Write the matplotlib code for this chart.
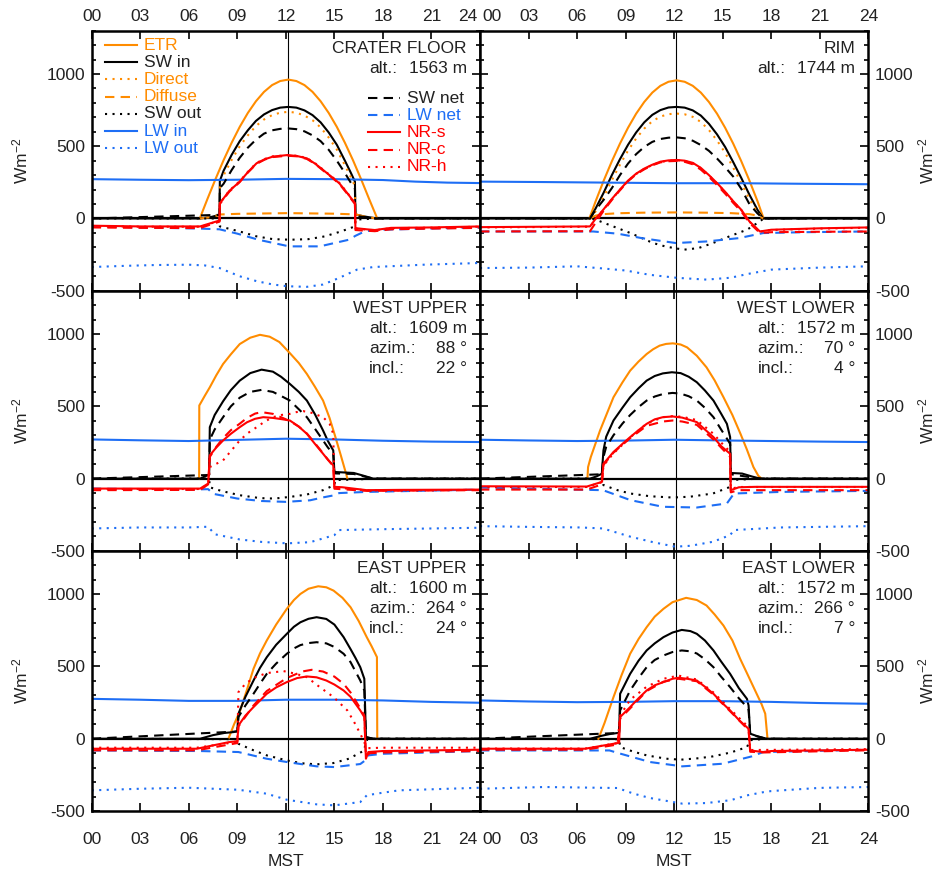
import numpy as np
import matplotlib
matplotlib.use("Agg")
import matplotlib.pyplot as plt
from matplotlib.lines import Line2D
from matplotlib.transforms import ScaledTranslation

plt.rcParams['font.family'] = ['Liberation Sans', 'DejaVu Sans']
plt.rcParams['mathtext.default'] = 'regular'
plt.rcParams['axes.unicode_minus'] = False
FS = 12.5

# ---------------- DATA ----------------
hours = [0, 3, 6, 9, 12, 15, 18, 21, 24]
hour_labels = ['00', '03', '06', '09', '12', '15', '18', '21', '24']
solar_noon = 12.13
panel_names = ['CRATER FLOOR', 'RIM', 'WEST UPPER', 'WEST LOWER', 'EAST UPPER', 'EAST LOWER']
panel_alt = [1563, 1744, 1609, 1572, 1600, 1572]
panel_azim = [None, None, 88, 70, 264, 266]
panel_incl = [None, None, 22, 4, 24, 7]

# ---- Crater floor ----
cf_etr = [(6.68, 0), (7.15, 134), (7.65, 272), (8.15, 403), (8.65, 524), (9.15, 634), (9.65, 730), (10.15, 811),
          (10.65, 876), (11.15, 923), (11.65, 951), (12.15, 961), (12.65, 951), (13.15, 923), (13.65, 876),
          (14.15, 811), (14.65, 730), (15.15, 634), (15.65, 524), (16.15, 403), (16.65, 272), (17.15, 134), (17.65, 0)]
cf_swin = [(0, 0), (6.7, 0), (7.3, 8), (7.9, 25), (7.92, 260), (8.15, 330), (8.65, 440), (9.15, 535), (9.65, 610),
           (10.15, 675), (10.65, 720), (11.15, 750), (11.65, 767), (12.15, 772), (12.65, 767), (13.15, 748),
           (13.65, 715), (14.15, 665), (14.65, 595), (15.15, 510), (15.65, 400), (16.0, 320), (16.27, 255),
           (16.3, 28), (16.8, 15), (17.6, 0), (24, 0)]
cf_direct = [(7.92, 0), (7.93, 225), (8.15, 298), (8.65, 405), (9.15, 500), (9.65, 575), (10.15, 640), (10.65, 685),
             (11.15, 715), (11.65, 732), (12.15, 738), (12.65, 732), (13.15, 712), (13.65, 680), (14.15, 630),
             (14.65, 560), (15.15, 477), (15.65, 368), (16.0, 290), (16.27, 225), (16.3, 0)]
cf_diffuse = [(6.7, 0), (7.3, 8), (7.9, 25), (8.0, 28), (9.0, 32), (12.15, 37), (15.0, 33), (16.3, 28), (16.8, 15), (17.6, 0)]
cf_swout = [(0, 0), (7.9, 0), (7.92, -55), (9.15, -90), (10.2, -124), (11.2, -143), (12.3, -147), (13.4, -143),
            (14.4, -124), (15.4, -90), (16.27, -55), (16.3, -8), (17.6, 0), (24, 0)]
cf_lwin = [(0, 272), (3, 268), (6, 265), (9, 268), (12, 274), (15, 272), (18, 266), (20, 255), (22, 248), (24, 245)]
cf_lwout = [(0, -336), (2, -328), (4, -322), (6, -320), (7, -325), (7.9, -343), (9.15, -400), (10.2, -434),
            (11.2, -457), (12.1, -469), (13.3, -473), (14.3, -457), (15.3, -411), (16.4, -354), (17.4, -336),
            (20.5, -320), (24, -308)]
cf_swnet = [(0, 0), (7.9, 25), (7.92, 210), (8.15, 240), (8.65, 335), (9.15, 420), (9.65, 490), (10.15, 545),
            (10.65, 587), (11.15, 610), (11.65, 620), (12.15, 623), (12.65, 618), (13.15, 603), (13.65, 575),
            (14.15, 535), (14.65, 475), (15.15, 400), (15.65, 315), (16.0, 250), (16.27, 205), (16.3, 18),
            (17.6, 0), (24, 0)]
cf_lwnet = [(0, -55), (6.7, -70), (7.9, -75), (9.0, -105), (10.3, -147), (12.2, -193), (14.1, -193), (15.9, -147),
            (16.3, -120), (16.9, -88), (17.9, -78), (20, -72), (24, -62)]
cf_nrs = [(0, -50), (3, -55), (6.7, -55), (7.9, -14), (7.92, 106), (8.5, 190), (9.15, 255), (9.65, 320),
          (10.19, 382), (10.7, 410), (11.2, 428), (12.1, 439), (12.7, 432), (13.3, 416), (13.8, 380), (14.3, 336),
          (14.8, 290), (15.3, 244), (15.8, 175), (16.27, 106), (16.3, -67), (17.0, -75), (17.5, -80), (18.5, -65),
          (21, -62), (24, -55)]
cf_nrc = [(0, -62), (3, -65), (6.7, -66), (7.9, -22), (7.92, 100), (8.5, 185), (9.15, 252), (9.65, 318),
          (10.19, 378), (10.7, 408), (11.2, 425), (12.1, 434), (12.7, 430), (13.3, 412), (13.8, 378), (14.3, 332),
          (14.8, 288), (15.3, 240), (15.8, 170), (16.27, 100), (16.3, -80), (17.0, -85), (17.5, -88), (18.5, -75),
          (21, -70), (24, -65)]
cf_nrh = [(0, -52), (3, -57), (6.7, -57), (7.9, -16), (7.92, 104), (8.5, 192), (9.15, 258), (9.65, 322),
          (10.19, 385), (10.7, 412), (11.2, 430), (12.1, 437), (12.7, 434), (13.3, 418), (13.8, 383), (14.3, 338),
          (14.8, 293), (15.3, 247), (15.8, 178), (16.27, 104), (16.3, -70), (17.0, -77), (17.5, -82), (18.5, -67),
          (21, -64), (24, -57)]

# ---- Rim ----
rim_etr = [(6.76, 0), (7.15, 120), (7.65, 263), (8.15, 396), (8.65, 518), (9.15, 628), (9.65, 725), (10.15, 806),
           (10.65, 871), (11.15, 918), (11.65, 946), (12.15, 956), (12.65, 946), (13.15, 918), (13.65, 871),
           (14.15, 806), (14.65, 725), (15.15, 628), (15.65, 518), (16.15, 396), (16.65, 263), (17.15, 120), (17.53, 0)]
rim_swin = [(0, 0), (6.8, 0), (7.15, 70), (7.65, 180), (8.15, 300), (8.65, 410), (9.15, 510), (9.65, 595),
            (10.15, 665), (10.65, 717), (11.15, 750), (11.65, 768), (12.15, 772), (12.65, 767), (13.15, 748),
            (13.65, 712), (14.15, 655), (14.65, 582), (15.15, 495), (15.65, 390), (16.15, 280), (16.65, 165),
            (17.15, 60), (17.5, 0), (24, 0)]
rim_direct = [(6.8, 0), (7.15, 50), (7.65, 150), (8.15, 265), (8.65, 372), (9.15, 470), (9.65, 553), (10.15, 622),
              (10.65, 673), (11.15, 705), (11.65, 722), (12.15, 726), (12.65, 721), (13.15, 703), (13.65, 668),
              (14.15, 612), (14.65, 540), (15.15, 455), (15.65, 352), (16.15, 245), (16.65, 135), (17.15, 40), (17.5, 0)]
rim_diffuse = [(6.8, 0), (7.15, 20), (7.65, 30), (8.5, 36), (10, 40), (12.15, 42), (14, 40), (15.5, 37),
               (16.65, 30), (17.15, 20), (17.5, 0)]
rim_swout = [(0, 0), (6.8, 0), (7.2, -10), (8.0, -45), (9.3, -101), (10.7, -170), (11.5, -195), (12.6, -216),
             (13.5, -205), (14.4, -170), (15.5, -120), (16.5, -78), (17.3, -20), (17.53, 0), (24, 0)]
rim_lwin = [(0, 255), (4, 252), (8, 248), (12, 244), (16, 244), (20, 240), (24, 237)]
rim_lwout = [(0, -343), (3, -340), (6, -331), (7.5, -345), (9, -360), (10.5, -390), (12.2, -411), (14, -423),
             (15.5, -410), (16.5, -385), (18, -354), (21, -340), (24, -331)]
rim_swnet = [(0, 0), (6.8, 0), (7.15, 60), (7.65, 130), (8.15, 210), (8.65, 300), (9.15, 380), (9.65, 445),
             (10.15, 495), (10.65, 530), (11.15, 550), (11.65, 559), (12.15, 561), (12.65, 555), (13.15, 538),
             (13.65, 508), (14.15, 468), (14.65, 415), (15.15, 355), (15.65, 290), (16.15, 205), (16.65, 100),
             (17.15, 35), (17.5, 0), (24, 0)]
rim_lwnet = [(0, -90), (7, -90), (8.5, -105), (10, -136), (12.1, -170), (14, -159), (16, -136), (17.5, -101),
             (20, -95), (24, -90)]
rim_nrs = [(0, -60), (6.8, -55), (7.1, -9), (7.65, 65), (8.15, 135), (8.65, 200), (9.15, 262), (9.65, 310),
           (10.15, 345), (10.65, 372), (11.15, 393), (11.65, 402), (12.15, 405), (12.65, 400), (13.15, 385),
           (13.65, 350), (14.15, 300), (14.65, 245), (15.15, 185), (15.65, 120), (16.15, 60), (16.65, -20),
           (17.3, -90), (18, -78), (21, -68), (24, -62)]
rim_nrc = [(0, -90), (6.8, -88), (7.2, -20), (7.65, 55), (8.15, 128), (8.65, 195), (9.15, 258), (9.65, 305),
           (10.15, 340), (10.65, 368), (11.15, 388), (11.65, 396), (12.15, 398), (12.65, 392), (13.15, 375),
           (13.65, 338), (14.15, 288), (14.65, 232), (15.15, 172), (15.65, 108), (16.15, 48), (16.65, -30),
           (17.3, -100), (18, -95), (21, -92), (24, -90)]
rim_nrh = [(0, -62), (6.8, -57), (7.1, -11), (7.65, 63), (8.15, 133), (8.65, 198), (9.15, 260), (9.65, 308),
           (10.15, 343), (10.65, 370), (11.15, 391), (11.65, 400), (12.15, 403), (12.65, 398), (13.15, 383),
           (13.65, 348), (14.15, 298), (14.65, 243), (15.15, 183), (15.65, 118), (16.15, 58), (16.65, -22),
           (17.3, -92), (18, -80), (21, -70), (24, -64)]

# ---- West upper ----
wu_etr = [(6.64, 0), (6.65, 506), (7.0, 575), (7.3, 632), (7.7, 715), (8.12, 793), (8.6, 860), (9.15, 931),
          (9.8, 975), (10.4, 995), (11.0, 982), (11.6, 945), (12.25, 868), (12.8, 800), (13.3, 724), (13.8, 635),
          (14.3, 540), (14.7, 420), (15.03, 300), (15.4, 160), (15.75, 23), (15.8, 0)]
wu_swin = [(0, 0), (6.7, 0), (7.0, 15), (7.26, 28), (7.3, 356), (7.6, 440), (8.12, 535), (8.6, 612), (9.15, 678),
           (9.8, 730), (10.5, 754), (11.2, 740), (11.7, 705), (12.25, 655), (12.8, 600), (13.3, 540), (13.8, 445),
           (14.3, 333), (14.6, 260), (14.93, 195), (15.0, 46), (16.2, 39), (16.8, 20), (17.4, 0), (24, 0)]
wu_swout = [(0, 0), (7.26, 0), (7.3, -60), (8.0, -85), (9.15, -115), (10.4, -135), (11.3, -138), (12.3, -126),
            (13.3, -110), (14.3, -80), (15.0, -45), (15.05, -10), (16.2, -7), (17.4, 0), (24, 0)]
wu_lwin = [(0, 271), (3, 265), (6, 260), (9, 268), (12, 276), (15, 271), (18, 262), (21, 256), (24, 253)]
wu_lwout = [(0, -345), (3, -338), (6, -338), (7.2, -333), (7.6, -385), (9.15, -421), (10.5, -438), (12.1, -448),
            (13.5, -440), (14.3, -414), (15.0, -391), (15.3, -356), (18, -350), (24, -340)]
wu_swnet = [(0, 0), (7.26, 25), (7.3, 270), (7.6, 340), (8.12, 425), (8.6, 500), (9.15, 560), (9.8, 600),
            (10.5, 614), (11.2, 600), (11.7, 572), (12.25, 540), (12.8, 480), (13.3, 425), (13.8, 345), (14.3, 264),
            (14.6, 215), (14.93, 172), (15.0, 36), (16.2, 32), (17.4, 0), (24, 0)]
wu_lwnet = [(0, -69), (6, -76), (7.2, -73), (7.5, -105), (9, -138), (10.5, -155), (12, -161), (13.5, -150),
            (14.3, -130), (15, -115), (15.3, -100), (17, -92), (20, -85), (24, -76)]
wu_nrs = [(0, -69), (6.7, -69), (7.2, -34), (7.3, 161), (7.7, 215), (8.12, 264), (8.6, 310), (9.15, 356),
          (9.6, 390), (10.1, 414), (10.6, 425), (11.2, 420), (11.7, 412), (12.25, 402), (12.8, 360), (13.3, 310),
          (13.8, 240), (14.3, 172), (14.6, 130), (14.93, 92), (15.0, -57), (15.5, -60), (17, -80), (19, -78), (24, -76)]
wu_nrc = [(0, -80), (6.7, -78), (7.2, -40), (7.3, 150), (7.7, 220), (8.12, 280), (8.6, 335), (9.15, 380),
          (9.6, 420), (10.1, 450), (10.5, 460), (11.2, 448), (11.7, 425), (12.25, 398), (12.8, 360), (13.3, 312),
          (13.8, 245), (14.3, 175), (14.93, 85), (15.0, -70), (17, -85), (24, -80)]
wu_nrh = [(0, -72), (6.7, -72), (7.2, -40), (7.3, 80), (8.12, 126), (8.6, 190), (9.15, 264), (9.65, 315),
          (10.2, 356), (10.7, 395), (11.2, 425), (11.7, 440), (12.25, 448), (12.65, 460), (13.07, 467), (13.6, 455),
          (14.3, 425), (14.7, 380), (14.93, 310), (15.0, -60), (17, -82), (24, -78)]

# ---- West lower ----
wl_etr = [(6.64, 0), (6.68, 80), (6.85, 150), (7.42, 333), (8.25, 563), (8.8, 665), (9.28, 747), (9.8, 810),
          (10.3, 862), (10.7, 895), (11.1, 920), (11.5, 932), (11.92, 936), (12.4, 928), (12.8, 908), (13.4, 850),
          (14.0, 770), (14.5, 680), (15.05, 563), (15.6, 440), (16.1, 310), (16.5, 200), (16.9, 80), (17.2, 20), (17.4, 0)]
wl_swin = [(0, 0), (6.8, 0), (7.2, 15), (7.53, 34), (7.63, 195), (7.8, 290), (8.25, 402), (8.8, 490), (9.28, 563),
           (9.8, 625), (10.3, 678), (10.8, 710), (11.3, 728), (11.86, 736), (12.4, 730), (12.9, 705), (13.4, 667),
           (13.9, 610), (14.43, 540), (14.9, 450), (15.26, 379), (15.46, 287), (15.5, 39), (16.2, 35), (16.8, 15),
           (17.3, 0), (24, 0)]
wl_swout = [(0, 0), (7.53, 0), (7.63, -45), (8.5, -80), (9.28, -103), (10.5, -122), (11.9, -131), (13.0, -125),
            (14.4, -103), (15.4, -60), (15.5, -10), (17.3, 0), (24, 0)]
wl_lwin = [(0, 269), (3, 264), (6, 260), (9, 263), (12, 269), (15, 264), (18, 260), (21, 256), (24, 253)]
wl_lwout = [(0, -329), (3, -334), (6.2, -338), (7.6, -345), (9.3, -402), (10.7, -440), (12.06, -471), (13, -465),
            (14.4, -437), (15.46, -391), (15.7, -356), (18.6, -338), (24, -329)]
wl_swnet = [(0, 0), (7.53, 30), (7.63, 150), (7.8, 220), (8.25, 300), (8.8, 380), (9.28, 440), (9.8, 495),
            (10.3, 540), (10.8, 568), (11.3, 585), (11.9, 593), (12.4, 588), (12.9, 570), (13.4, 540), (13.9, 490),
            (14.43, 425), (14.9, 340), (15.3, 270), (15.46, 240), (15.5, 30), (17.3, 0), (24, 0)]
wl_lwnet = [(0, -62), (7.6, -80), (9.3, -149), (11.3, -195), (13.4, -200), (15.26, -172), (15.7, -103),
            (18.6, -92), (24, -85)]
wl_nrs = [(0, -53), (6.6, -55), (7.53, -23), (7.63, 103), (8.25, 184), (8.8, 240), (9.28, 287), (9.8, 335),
          (10.3, 379), (10.8, 410), (11.3, 425), (11.9, 430), (12.5, 422), (13.0, 405), (13.4, 391), (13.9, 340),
          (14.43, 287), (14.9, 225), (15.46, 172), (15.5, -80), (16, -60), (17, -57), (24, -57)]
wl_nrc = [(0, -76), (6.6, -76), (7.53, -40), (7.63, 95), (8.25, 180), (9.28, 280), (10.3, 365), (11.3, 395),
          (11.9, 402), (12.5, 395), (13.4, 372), (14.43, 270), (15.46, 150), (15.5, -95), (16, -80), (24, -80)]
wl_nrh = [(0, -58), (6.6, -58), (7.53, -25), (7.63, 90), (8.25, 175), (9.28, 285), (10.3, 380), (11.3, 425),
          (11.9, 432), (12.5, 428), (13.4, 405), (14.43, 310), (14.9, 250), (15.46, 185), (15.5, -70), (16, -58), (24, -58)]

# ---- East upper ----
eu_etr = [(8.45, 0), (8.8, 100), (9.18, 196), (9.6, 340), (10.0, 484), (10.4, 590), (10.82, 680), (11.4, 790),
          (12.06, 899), (12.5, 960), (12.9, 1002), (13.4, 1038), (14.0, 1055), (14.5, 1048), (14.95, 1025),
          (15.5, 975), (16.0, 910), (16.5, 815), (17.0, 703), (17.3, 640), (17.63, 565), (17.65, 0)]
eu_swin = [(0, 0), (6.7, 0), (7.5, 25), (8.2, 40), (8.76, 46), (9.0, 53), (9.07, 173), (9.5, 290), (10.0, 403),
           (10.4, 490), (10.82, 564), (11.4, 650), (12.06, 726), (12.5, 775), (12.9, 806), (13.4, 830), (13.9, 841),
           (14.5, 829), (15.0, 790), (15.57, 703), (16.0, 620), (16.3, 560), (16.6, 495), (16.85, 415), (16.95, 12),
           (17.4, 0), (24, 0)]
eu_swout = [(0, 0), (9.0, -3), (9.07, -35), (10.0, -80), (10.82, -115), (12.06, -150), (13.0, -170), (13.9, -177),
            (14.95, -168), (15.9, -138), (16.85, -81), (16.95, -10), (17.4, 0), (24, 0)]
eu_lwin = [(0, 276), (3, 270), (6, 262), (9, 262), (12, 270), (15, 270), (18, 265), (21, 255), (24, 249)]
eu_lwout = [(0, -357), (3, -346), (6, -339), (9.07, -353), (10.8, -380), (12.06, -422), (13.9, -454), (15.0, -461),
            (16.6, -438), (17.0, -392), (17.6, -380), (19, -357), (24, -339)]
eu_swnet = [(0, 0), (9.0, 50), (9.07, 150), (9.5, 230), (10.0, 311), (10.4, 380), (10.82, 449), (11.4, 520),
            (12.06, 588), (12.5, 625), (12.9, 648), (13.4, 662), (13.9, 668), (14.5, 660), (15.0, 635), (15.57, 588),
            (16.0, 530), (16.6, 403), (16.85, 334), (16.95, 10), (17.4, 0), (24, 0)]
eu_lwnet = [(0, -81), (6.7, -85), (9.07, -92), (10.8, -138), (12.06, -161), (13.9, -191), (15.0, -196),
            (16.6, -175), (16.9, -150), (17.1, -115), (18, -104), (24, -85)]
eu_nrs = [(0, -69), (6.5, -69), (8.5, -23), (9.0, -18), (9.07, 92), (9.5, 160), (10.0, 219), (10.82, 311),
          (11.4, 355), (12.06, 392), (12.7, 420), (13.3, 431), (13.9, 425), (14.5, 403), (15.0, 375), (15.57, 334),
          (16.0, 290), (16.6, 196), (16.85, 150), (16.95, -138), (17.1, -92), (18, -85), (24, -76)]
eu_nrc = [(0, -80), (6.5, -80), (8.5, -40), (9.0, -30), (9.07, 85), (10.0, 230), (10.82, 330), (12.06, 420),
          (13.0, 465), (13.6, 477), (14.3, 465), (15.0, 430), (15.57, 380), (16.0, 320), (16.6, 210), (16.85, 160),
          (16.95, -120), (17.2, -100), (18, -95), (24, -85)]
eu_nrh = [(0, -62), (6.5, -62), (8.5, -30), (9.0, -20), (9.07, 323), (9.5, 380), (10.0, 420), (10.8, 454),
          (11.86, 468), (12.6, 450), (13.3, 426), (14.1, 357), (14.95, 288), (15.8, 196), (16.2, 120), (16.6, 35),
          (16.95, -50), (17.1, -65), (18, -62), (24, -62)]

# ---- East lower ----
el_etr = [(7.32, 0), (7.7, 110), (8.25, 288), (8.75, 440), (9.28, 588), (9.8, 690), (10.3, 772), (10.8, 845),
          (11.34, 899), (11.9, 945), (12.74, 975), (13.4, 960), (14.0, 922), (14.5, 860), (15.05, 783), (15.6, 680),
          (16.08, 553), (16.6, 430), (17.1, 311), (17.4, 240), (17.63, 173), (17.77, 0)]
el_swin = [(0, 0), (6.8, 0), (7.5, 20), (8.0, 32), (8.45, 39), (8.6, 42), (8.66, 311), (9.28, 449), (9.8, 540),
           (10.3, 611), (10.8, 660), (11.34, 703), (11.9, 735), (12.47, 753), (13.0, 745), (13.4, 726), (13.9, 680),
           (14.43, 611), (14.9, 535), (15.46, 449), (16.0, 350), (16.5, 276), (16.6, 230), (16.7, 35), (17.2, 15),
           (17.7, 0), (24, 0)]
el_swout = [(0, 0), (8.6, -3), (8.66, -58), (9.5, -90), (10.3, -115), (11.5, -138), (12.4, -145), (13.5, -135),
            (14.4, -122), (15.5, -95), (16.5, -58), (16.7, -10), (17.7, 0), (24, 0)]
el_lwin = [(0, 265), (3, 258), (6, 253), (9, 255), (12, 260), (15, 260), (18, 255), (21, 247), (24, 242)]
el_lwout = [(0, -346), (4, -334), (8.5, -341), (9.5, -380), (10.5, -410), (12.5, -449), (14, -445), (15.5, -425),
            (16.5, -392), (17.5, -370), (18, -362), (21, -340), (24, -334)]
el_swnet = [(0, 0), (8.6, 40), (8.66, 196), (9.28, 334), (9.8, 420), (10.3, 495), (10.8, 545), (11.34, 576),
            (11.9, 600), (12.47, 611), (13.0, 605), (13.4, 590), (13.9, 550), (14.43, 495), (14.9, 430), (15.46, 357),
            (16.0, 280), (16.5, 219), (16.6, 200), (16.7, 30), (17.7, 0), (24, 0)]
el_lwnet = [(0, -81), (8, -81), (8.7, -104), (10.5, -161), (12.5, -191), (15, -173), (16.8, -122), (17.5, -92), (24, -76)]
el_nrs = [(0, -69), (6.5, -69), (8.5, -30), (8.6, -28), (8.66, 150), (9.28, 219), (9.8, 280), (10.3, 334),
          (10.8, 370), (11.34, 392), (11.9, 415), (12.27, 422), (12.8, 415), (13.4, 403), (13.9, 360), (14.43, 311),
          (14.9, 255), (15.46, 196), (16.0, 130), (16.6, 69), (16.7, -81), (17.5, -92), (18, -85), (24, -76)]
el_nrc = [(0, -76), (6.5, -76), (8.5, -40), (8.66, 140), (9.28, 210), (10.3, 330), (11.34, 395), (12.27, 415),
          (13.4, 398), (14.43, 305), (15.46, 190), (16.6, 60), (16.7, -90), (17.5, -95), (24, -80)]
el_nrh = [(0, -68), (6.5, -68), (8.5, -30), (8.66, 160), (9.28, 270), (10.3, 360), (11.34, 415), (12.27, 437),
          (13.4, 410), (14.43, 320), (15.46, 205), (16.6, 80), (16.7, -78), (24, -72)]

# ---------------- STYLE ----------------
ORANGE = '#FF8C00'
BLUE = '#1E6EF5'
RED = '#FF0000'
DOT = (0, (1, 2.6))
DASH = (0, (4.5, 3))
series_style = {
    'etr': ('ETR', ORANGE, '-'), 'swin': ('SW in', 'black', '-'), 'direct': ('Direct', ORANGE, DOT),
    'diffuse': ('Diffuse', ORANGE, DASH), 'swout': ('SW out', 'black', DOT), 'lwin': ('LW in', BLUE, '-'),
    'lwout': ('LW out', BLUE, DOT), 'swnet': ('SW net', 'black', DASH), 'lwnet': ('LW net', BLUE, DASH),
    'nrs': ('NR-s', RED, '-'), 'nrc': ('NR-c', RED, DASH), 'nrh': ('NR-h', RED, DOT),
}
order = ['etr', 'swin', 'direct', 'diffuse', 'swout', 'lwin', 'lwout', 'swnet', 'lwnet', 'nrs', 'nrc', 'nrh']

panels = [
    dict(etr=cf_etr, swin=cf_swin, direct=cf_direct, diffuse=cf_diffuse, swout=cf_swout, lwin=cf_lwin,
         lwout=cf_lwout, swnet=cf_swnet, lwnet=cf_lwnet, nrs=cf_nrs, nrc=cf_nrc, nrh=cf_nrh),
    dict(etr=rim_etr, swin=rim_swin, direct=rim_direct, diffuse=rim_diffuse, swout=rim_swout, lwin=rim_lwin,
         lwout=rim_lwout, swnet=rim_swnet, lwnet=rim_lwnet, nrs=rim_nrs, nrc=rim_nrc, nrh=rim_nrh),
    dict(etr=wu_etr, swin=wu_swin, swout=wu_swout, lwin=wu_lwin, lwout=wu_lwout, swnet=wu_swnet,
         lwnet=wu_lwnet, nrs=wu_nrs, nrc=wu_nrc, nrh=wu_nrh),
    dict(etr=wl_etr, swin=wl_swin, swout=wl_swout, lwin=wl_lwin, lwout=wl_lwout, swnet=wl_swnet,
         lwnet=wl_lwnet, nrs=wl_nrs, nrc=wl_nrc, nrh=wl_nrh),
    dict(etr=eu_etr, swin=eu_swin, swout=eu_swout, lwin=eu_lwin, lwout=eu_lwout, swnet=eu_swnet,
         lwnet=eu_lwnet, nrs=eu_nrs, nrc=eu_nrc, nrh=eu_nrh),
    dict(etr=el_etr, swin=el_swin, swout=el_swout, lwin=el_lwin, lwout=el_lwout, swnet=el_swnet,
         lwnet=el_lwnet, nrs=el_nrs, nrc=el_nrc, nrh=el_nrh),
]

# ---------------- FIGURE ----------------
W, H = 939, 872
fig = plt.figure(figsize=(W / 100, H / 100), dpi=100)
L, M, R = 91.7 / W, 480 / W, 868.3 / W
TOP, BOT = 1 - 30.6 / H, 1 - 811 / H
rh = (TOP - BOT) / 3
LW = 1.5
TXT = '#222222'

for i in range(6):
    row, col = divmod(i, 2)
    x0 = L if col == 0 else M
    w = (M - L) if col == 0 else (R - M)
    ax = fig.add_axes([x0, TOP - (row + 1) * rh, w, rh])
    data = panels[i]
    ax.axhline(0, color='black', lw=1.6, zorder=1)
    ax.axvline(solar_noon, color='black', lw=0.8, zorder=1)
    for key in order:
        if key not in data:
            continue
        t, v = np.array(data[key], dtype=float).T
        lab, c, ls = series_style[key]
        ax.plot(t, v, color=c, ls=ls, lw=LW, zorder=2, solid_joinstyle='round')
    ax.set_xlim(0, 24)
    ax.set_ylim(-500, 1300)
    ax.set_xticks(hours)
    ax.set_xticklabels(hour_labels)
    ax.set_yticks([-500, 0, 500, 1000])
    ax.set_yticks(np.arange(-500, 1301, 100), minor=True)
    ax.tick_params(which='both', direction='in', top=True, bottom=True, left=True, right=True,
                   labelsize=FS, width=1.2, labelcolor=TXT)
    ax.tick_params(which='major', length=5.5)
    ax.tick_params(which='minor', length=3)
    ax.tick_params(axis='y', pad=4.8)
    ax.tick_params(axis='x', labeltop=(row == 0), labelbottom=(row == 2))
    if row == 0:
        ax.tick_params(axis='x', pad=5)
    else:
        ax.tick_params(axis='x', pad=15)
    if col == 0:
        ax.tick_params(axis='y', labelleft=True, labelright=False)
    else:
        ax.tick_params(axis='y', labelleft=False, labelright=True)
    # keep the labels at the shared edge apart
    mt = ax.xaxis.get_major_ticks()
    if col == 0:
        shift = ScaledTranslation(-2.5 / 100, 0, fig.dpi_scale_trans)
        for lb in (mt[-1].label1, mt[-1].label2):
            lb.set_horizontalalignment('right')
            lb.set_transform(lb.get_transform() + shift)
    else:
        shift = ScaledTranslation(2.0 / 100, 0, fig.dpi_scale_trans)
        for lb in (mt[0].label1, mt[0].label2):
            lb.set_horizontalalignment('left')
            lb.set_transform(lb.get_transform() + shift)
    for s in ax.spines.values():
        s.set_linewidth(1.8)

    hpx = rh * H
    def yf(off):
        return 1 - off / hpx
    ax.text(0.966, yf(17.5), panel_names[i], transform=ax.transAxes, ha='right', va='center', fontsize=FS, color=TXT)
    ax.text(0.715, yf(37.6), 'alt.:', transform=ax.transAxes, ha='left', va='center', fontsize=FS, color=TXT)
    ax.text(0.966, yf(37.6), f'{panel_alt[i]} m', transform=ax.transAxes, ha='right', va='center', fontsize=FS, color=TXT)
    if panel_azim[i] is not None:
        ax.text(0.715, yf(57.8), 'azim.:', transform=ax.transAxes, ha='left', va='center', fontsize=FS, color=TXT)
        ax.text(0.966, yf(57.8), f'{panel_azim[i]} °', transform=ax.transAxes, ha='right', va='center', fontsize=FS, color=TXT)
        ax.text(0.715, yf(78.0), 'incl.:', transform=ax.transAxes, ha='left', va='center', fontsize=FS, color=TXT)
        ax.text(0.966, yf(78.0), f'{panel_incl[i]} °', transform=ax.transAxes, ha='right', va='center', fontsize=FS, color=TXT)

    if i == 0:
        left_keys = ['etr', 'swin', 'direct', 'diffuse', 'swout', 'lwin', 'lwout']
        right_keys = ['swnet', 'lwnet', 'nrs', 'nrc', 'nrh']
        for j, key in enumerate(left_keys):
            lab, c, ls = series_style[key]
            y = yf(14.4 + 17.2 * j)
            ax.add_line(Line2D([0.034, 0.117], [y, y], transform=ax.transAxes, color=c, ls=ls, lw=LW))
            ax.text(0.135, y, lab, transform=ax.transAxes, ha='left', va='center', fontsize=FS,
                    color=(c if c != 'black' else TXT))
        for j, key in enumerate(right_keys):
            lab, c, ls = series_style[key]
            y = yf(14.4 + 17.2 * (j + 3) + 1.5)
            ax.add_line(Line2D([0.711, 0.793], [y, y], transform=ax.transAxes, color=c, ls=ls, lw=LW))
            ax.text(0.811, y, lab, transform=ax.transAxes, ha='left', va='center', fontsize=FS,
                    color=(c if c != 'black' else TXT))

for row in range(3):
    yc = TOP - (row + 0.5) * rh
    fig.text(20 / W, yc, 'Wm$^{-2}$', rotation=90, ha='center', va='center', fontsize=FS, color=TXT)
    fig.text(926 / W, yc, 'Wm$^{-2}$', rotation=90, ha='center', va='center', fontsize=FS, color=TXT)
for xc in [(L + M) / 2, (M + R) / 2]:
    fig.text(xc, 1 - 861.7 / H, 'MST', ha='center', va='center', fontsize=FS, color=TXT)

fig.savefig('out.png', dpi=100)
